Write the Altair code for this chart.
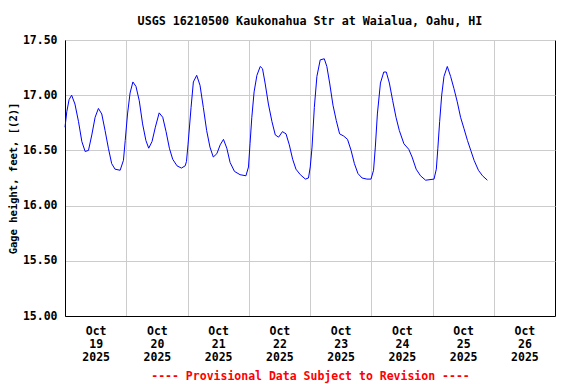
import altair as alt
import pandas as pd

# hours since 2025-10-19 00:00 (local) and gage height (feet)
hours = [0.0, 0.7, 1.6, 2.6, 3.9, 5.3, 6.6, 7.9, 9.2, 10.5, 11.8, 13.1, 14.4, 15.7, 17.0,
         18.3, 19.6, 21.6, 22.9, 23.6, 24.5, 25.5, 26.6, 27.8, 29.1, 30.4, 31.7, 32.8, 34.1,
         35.4, 36.9, 38.3, 39.6, 40.9, 42.2, 43.9, 45.6, 47.1, 47.6, 48.2, 49.4, 50.3, 51.6,
         52.9, 54.2, 55.5, 56.8, 58.1, 59.5, 60.8, 62.1, 63.4, 64.7, 66.4, 68.6, 70.9, 71.9,
         72.5, 73.2, 74.1, 75.2, 76.5, 77.4, 78.4, 79.7, 81.1, 82.4, 83.7, 85.2, 86.6, 87.9,
         89.2, 90.5, 92.2, 94.2, 95.4, 96.1, 96.8, 97.7, 98.7, 100.0, 101.6, 102.6, 103.7,
         105.0, 106.3, 107.6, 109.2, 110.7, 112.1, 113.4, 114.8, 116.4, 118.3, 119.9, 120.9,
         121.6, 122.4, 123.6, 124.9, 125.9, 127.1, 128.4, 129.7, 131.0, 132.8, 134.7, 136.0,
         137.6, 139.3, 141.3, 144.6, 145.5, 146.1, 146.8, 147.6, 148.5, 149.8, 151.1, 152.4,
         153.7, 155.0, 156.3, 157.7, 159.0, 160.3, 162.0, 163.6, 165.5]
gage = [16.71, 16.85, 16.96, 17.00, 16.92, 16.76, 16.58, 16.49, 16.50, 16.64, 16.80, 16.88,
        16.83, 16.68, 16.52, 16.38, 16.33, 16.32, 16.41, 16.59, 16.83, 17.02, 17.12, 17.08,
        16.95, 16.74, 16.59, 16.52, 16.58, 16.71, 16.84, 16.80, 16.67, 16.52, 16.42, 16.36,
        16.34, 16.36, 16.40, 16.55, 16.89, 17.12, 17.18, 17.09, 16.89, 16.68, 16.53, 16.44,
        16.47, 16.55, 16.60, 16.52, 16.39, 16.31, 16.28, 16.27, 16.35, 16.56, 16.80, 17.03,
        17.18, 17.26, 17.24, 17.11, 16.92, 16.76, 16.64, 16.62, 16.67, 16.65, 16.55, 16.42,
        16.33, 16.28, 16.24, 16.25, 16.35, 16.53, 16.89, 17.17, 17.32, 17.33, 17.26, 17.11,
        16.91, 16.77, 16.65, 16.63, 16.60, 16.50, 16.38, 16.29, 16.25, 16.24, 16.24, 16.32,
        16.53, 16.83, 17.11, 17.21, 17.21, 17.11, 16.95, 16.80, 16.68, 16.56, 16.51, 16.44,
        16.33, 16.27, 16.23, 16.24, 16.33, 16.52, 16.76, 17.00, 17.17, 17.26, 17.17, 17.06,
        16.94, 16.80, 16.70, 16.59, 16.50, 16.41, 16.32, 16.27, 16.23]

day_ticks = [19, 20, 21, 22, 23, 24, 25, 26]
y_ticks = [15.0, 15.5, 16.0, 16.5, 17.0, 17.5]

title_text = "USGS 16210500 Kaukonahua Str at Waialua, Oahu, HI"
y_title = "Gage height, feet, [(2)]"
footer = "---- Provisional Data Subject to Revision ----"

base = pd.Timestamp("2025-10-19 00:00")
df = pd.DataFrame({
    "time": [(base + pd.Timedelta(hours=h)).strftime("%Y-%m-%dT%H:%M:%S") for h in hours],
    "gage": gage,
})

FONT = "DejaVu Sans Mono"
W, H = 490, 276

x_axis = alt.Axis(
    values=[alt.DateTime(year=2025, month=10, date=d) for d in day_ticks],
    labelExpr="[timeFormat(datum.value, '%b'), timeFormat(datum.value, '%d'), timeFormat(datum.value, '%Y')]",
    labelOffset=W / 16,
    labelFlush=False,
    labelOverlap=False,
    labelPadding=9,
    labelLineHeight=13,
    ticks=False,
    grid=True,
    title=footer,
    titleColor="#ff0000",
    titlePadding=8,
)

y_axis = alt.Axis(
    values=y_ticks,
    format=".2f",
    ticks=False,
    grid=True,
    labelPadding=8,
    title=y_title,
    titleFontSize=10.5,
    titleAngle=270,
    titleAlign="center",
    titleBaseline="alphabetic",
    titleX=-49,
    titleY=H / 2,
)

chart = (
    alt.Chart(df)
    .mark_line(color="#0000ff", strokeWidth=1)
    .encode(
        x=alt.X("time:T",
                scale=alt.Scale(domain=[alt.DateTime(year=2025, month=10, date=19),
                                        alt.DateTime(year=2025, month=10, date=27)]),
                axis=x_axis),
        y=alt.Y("gage:Q", scale=alt.Scale(domain=[15.0, 17.5], nice=False, zero=False), axis=y_axis),
    )
    .properties(
        width=W,
        height=H,
        title=alt.TitleParams(title_text, anchor="middle", font=FONT, fontSize=11.7,
                              fontWeight="bold", color="#000000", offset=6),
        autosize=alt.AutoSizeParams(type="none"),
        padding={"left": 57, "top": 32, "right": 13, "bottom": 68},
        background="#ffffff",
    )
    .configure_view(stroke="#000000", strokeWidth=1)
    .configure_axis(
        labelFont=FONT, labelFontSize=11.5, labelFontWeight="bold", labelColor="#000000",
        titleFont=FONT, titleFontSize=11.5, titleFontWeight="bold",
        gridColor="#cccccc", gridWidth=1, gridOpacity=1,
        domainColor="#000000", domainWidth=1,
    )
)

chart.save("out.html", embed_options={"renderer": "svg", "actions": False})
